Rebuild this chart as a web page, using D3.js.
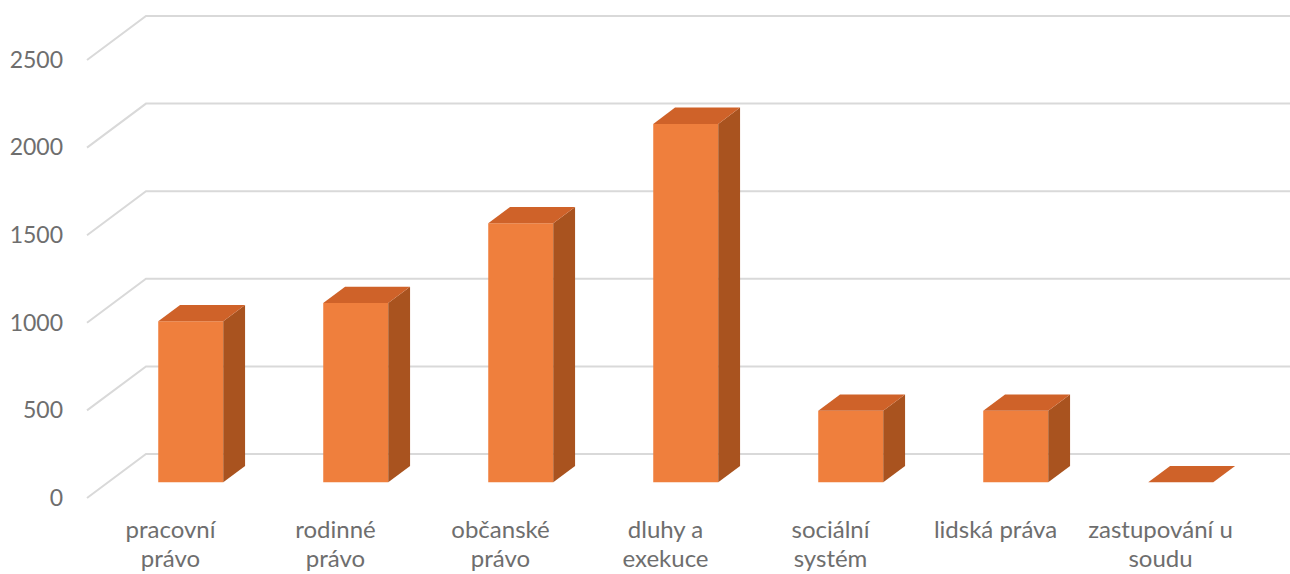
<!DOCTYPE html>
<html>
<head>
<meta charset="utf-8">
<script src="https://cdn.jsdelivr.net/npm/d3@7"></script>
<style>
	body {margin:0; background:#fff;}
	text {font-family:Lato, "Noto Sans", sans-serif; fill:#6e6e6e;}
</style>
</head>
<body>
<div id="chart"></div>
<script>
// 3D column chart

var categories = ["pracovní právo", "rodinné právo", "občanské právo", "dluhy a exekuce",
	"sociální systém", "lidská práva", "zastupování u soudu"];
var labelLines = [["pracovní", "právo"], ["rodinné", "právo"], ["občanské", "právo"],
	["dluhy a", "exekuce"], ["sociální", "systém"], ["lidská práva"], ["zastupování u", "soudu"]];
var values = [918, 1022, 1478, 2045, 408, 408, 0];
var yTicks = [0, 500, 1000, 1500, 2000, 2500];

var width = 1290, height = 574;
var DX = 59, DY = 44;          // full depth offset of the back wall
var z0 = 0.36, z1 = 0.73;      // bar depth range

var svg = d3.select("#chart").append("svg")
	.attr("width", width)
	.attr("height", height);

var x = d3.scaleBand()
	.domain(categories)
	.range([87, 87 + 165*categories.length])
	.paddingInner(100/165)
	.paddingOuter(50/165);

var y = d3.scaleLinear()
	.domain([0, 2500])
	.range([498, 60]);

function P(px, v, z) {return [px + z*DX, y(v) - z*DY];}

// gridlines: floor edge diagonal + back wall line
svg.append("g").selectAll("polyline")
	.data(yTicks)
	.enter().append("polyline")
	.attr("points", function(t){
		var a = P(87, t, 0), b = P(87, t, 1);
		return [a, b, [width + 5, b[1]]].map(function(p){return p.join(",")}).join(" ");
	})
	.attr("fill", "none")
	.attr("stroke", "#d9d9d9")
	.attr("stroke-width", 2);

// y axis labels
var yAxis = svg.append("g")
	.attr("transform", "translate(63,0)")
	.call(d3.axisLeft(y).tickValues(yTicks).tickFormat(d3.format("d")).tickSize(0).tickPadding(0));
yAxis.select(".domain").remove();
yAxis.selectAll("text")
	.style("font-family", "Lato, 'Noto Sans', sans-serif")
	.style("font-size", "23px")
	.attr("fill", "#6e6e6e");

function poly(pts) {return pts.map(function(p){return p.join(",")}).join(" ");}

var bars = svg.append("g").selectAll("g")
	.data(categories.map(function(c, i){return {cat:c, val:values[i]}}))
	.enter().append("g");

// front face
bars.append("polygon")
	.attr("points", function(d){
		var l = x(d.cat), r = l + x.bandwidth();
		return poly([P(l, 0, z0), P(r, 0, z0), P(r, d.val, z0), P(l, d.val, z0)]);
	})
	.attr("fill", "#ef7f3d");

// side face
bars.append("polygon")
	.attr("points", function(d){
		var r = x(d.cat) + x.bandwidth();
		return poly([P(r, 0, z0), P(r, 0, z1), P(r, d.val, z1), P(r, d.val, z0)]);
	})
	.attr("fill", "#a9531f");

// top face
bars.append("polygon")
	.attr("points", function(d){
		var l = x(d.cat), r = l + x.bandwidth();
		return poly([P(l, d.val, z0), P(r, d.val, z0), P(r, d.val, z1), P(l, d.val, z1)]);
	})
	.attr("fill", "#cf6229");

// category labels
var lab = svg.append("g").selectAll("text")
	.data(categories)
	.enter().append("text")
	.attr("text-anchor", "middle")
	.style("font-size", "24px")
	.attr("transform", function(d){return "translate(" + (x(d) + x.bandwidth()/2 + 1) + ",538)";});

lab.selectAll("tspan")
	.data(function(d, i){return labelLines[i];})
	.enter().append("tspan")
	.attr("x", 0)
	.attr("y", function(d, i){return i*29;})
	.text(function(d){return d;});
</script>
</body>
</html>
